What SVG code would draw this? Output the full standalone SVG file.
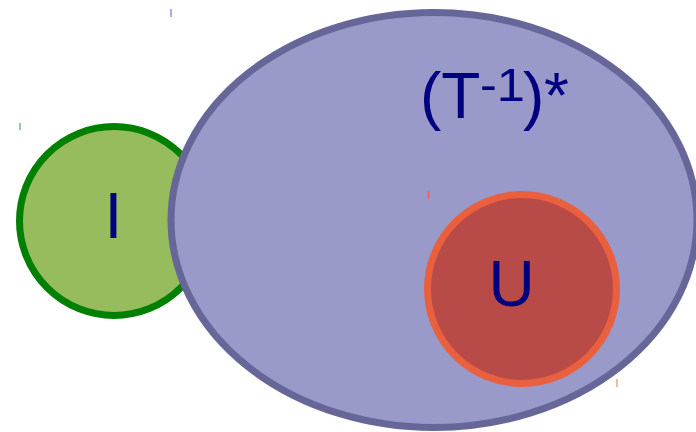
<svg xmlns="http://www.w3.org/2000/svg" width="696" height="432" viewBox="0 0 696 432">
<style>
.lbl{font-family:"Liberation Sans",Arial,sans-serif;fill:#000080;font-size:64px}
.tick{stroke-width:1.6}
</style>
<rect width="696" height="432" fill="#ffffff"/>
<g id="I">
<circle cx="114" cy="221" r="94.5" fill="#96BC5E" stroke="#008000" stroke-width="7"/>
<text class="lbl" x="113.5" y="238" text-anchor="middle">I</text>
</g>
<g id="Tinv">
<ellipse cx="434" cy="220" rx="263" ry="207.5" fill="#9999CA" stroke="#666699" stroke-width="7"/>
<text class="lbl" y="118"><tspan x="420">(T</tspan><tspan x="480" y="101" font-size="46" textLength="45" lengthAdjust="spacingAndGlyphs">-1</tspan><tspan x="523" y="118">)</tspan><tspan x="544">*</tspan></text>
</g>
<g id="U">
<circle cx="522" cy="289" r="94.5" fill="#B84A48" stroke="#EA603E" stroke-width="7"/>
<text class="lbl" x="511.5" y="306" text-anchor="middle">U</text>
</g>
<g id="connectors">
<line class="tick" x1="171" y1="9" x2="171" y2="17" stroke="#9A9ACC"/>
<line class="tick" x1="20" y1="123" x2="20" y2="130" stroke="#7CC47C"/>
<line class="tick" x1="428.5" y1="191" x2="428.5" y2="199" stroke="#EE6060"/>
<line class="tick" x1="617" y1="379" x2="617" y2="387" stroke="#F4A888"/>
</g>
</svg>
